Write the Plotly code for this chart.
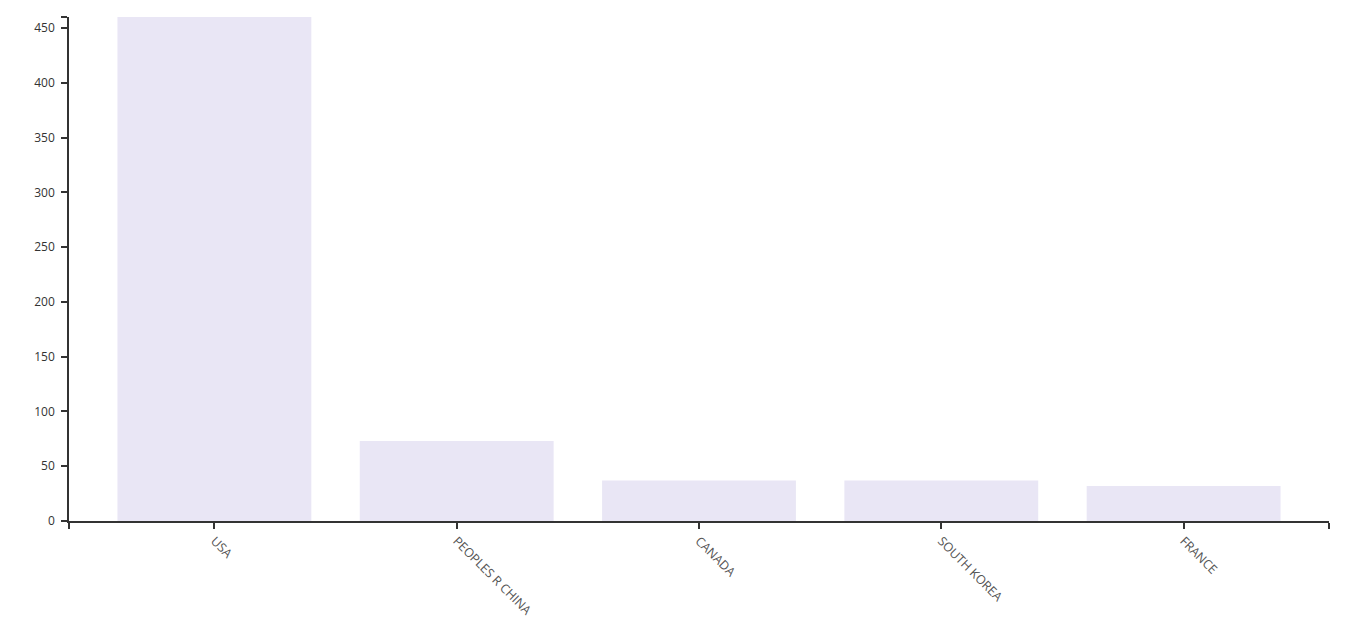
import plotly.graph_objects as go

countries = ["USA", "PEOPLES R CHINA", "CANADA", "SOUTH KOREA", "FRANCE"]
counts = [460, 73, 37, 37, 32]
y_ticks = [0, 50, 100, 150, 200, 250, 300, 350, 400, 450]

pos = list(range(len(countries)))

fig = go.Figure(go.Bar(x=pos, y=counts, marker_color="#e9e6f5", marker_line_width=0, width=0.8))

fig.update_layout(
    width=1340, height=614,
    margin=dict(l=61, r=19, t=9, b=101, autoexpand=False),
    paper_bgcolor="white", plot_bgcolor="white",
    font=dict(family="Open Sans", size=12, color="#333"),
    showlegend=False,
)
fig.update_xaxes(
    range=[-0.6, len(countries) - 0.4],
    tickvals=[-0.6] + pos + [len(countries) - 0.4],
    ticktext=[""] + countries + [""],
    tickangle=45, ticks="outside", ticklen=6, tickcolor="#333", tickwidth=1.5,
    showline=True, linecolor="#333", linewidth=1.5, showgrid=False, zeroline=False,
    tickfont=dict(color="#555", size=12.5), automargin=False,
)
fig.update_yaxes(
    range=[0, max(counts)],
    tickvals=y_ticks + [max(counts)],
    ticktext=[str(v) for v in y_ticks] + [""],
    ticks="outside", ticklen=6, tickcolor="#333", tickwidth=1.5,
    showline=True, linecolor="#333", linewidth=1.5, showgrid=False, zeroline=False,
    tickfont=dict(color="#333", size=12), automargin=False, ticklabelstandoff=4,
)

fig.write_html("out.html")
